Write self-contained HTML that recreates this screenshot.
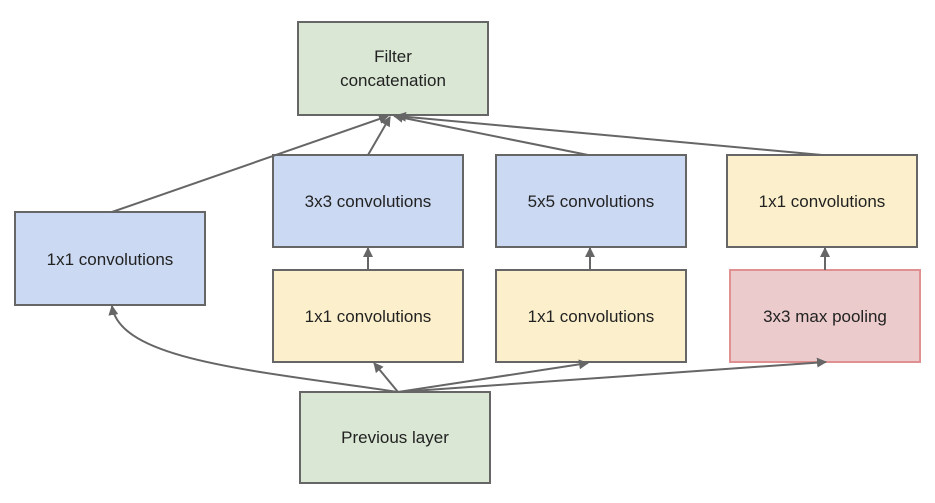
<!DOCTYPE html>
<html><head><meta charset="utf-8"><style>
body{margin:0;background:#fff;}
</style></head><body>
<svg width="935" height="498" xmlns="http://www.w3.org/2000/svg" font-family="Liberation Sans, Arial, sans-serif" font-size="17" fill="#222">
<defs><marker id="a" markerWidth="10" markerHeight="10" refX="9" refY="5" orient="auto" markerUnits="userSpaceOnUse"><path d="M0,0 L10,5 L0,10 z" fill="#666"/></marker></defs>
<g stroke="#666" stroke-width="2">
<rect x="298" y="22" width="190" height="93" fill="#d9e7d4"/>
<rect x="15" y="212" width="190" height="93" fill="#cbd9f2"/>
<rect x="273" y="155" width="190" height="92" fill="#cbd9f2"/>
<rect x="496" y="155" width="190" height="92" fill="#cbd9f2"/>
<rect x="727" y="155" width="190" height="92" fill="#fcf0cc"/>
<rect x="273" y="270" width="190" height="92" fill="#fcf0cc"/>
<rect x="496" y="270" width="190" height="92" fill="#fcf0cc"/>
<rect x="730" y="270" width="190" height="92" fill="#ebcbcb" stroke="#e09090"/>
<rect x="300" y="392" width="190" height="91" fill="#d9e7d4"/>
</g>
<g stroke="#666" stroke-width="2" fill="none" marker-end="url(#a)">
<line x1="112" y1="212" x2="388" y2="116"/>
<line x1="368" y1="155" x2="390" y2="117"/>
<line x1="588" y1="155" x2="394" y2="116"/>
<line x1="822" y1="155" x2="397" y2="116"/>
<line x1="368" y1="270" x2="368" y2="248"/>
<line x1="590" y1="270" x2="590" y2="248"/>
<line x1="825" y1="270" x2="825" y2="248"/>
<path d="M398,392 C250,370 120,360 112,306"/>
<line x1="398" y1="392" x2="374" y2="363"/>
<line x1="398" y1="392" x2="588" y2="363"/>
<line x1="398" y1="392" x2="826" y2="362"/>
</g>
<g text-anchor="middle">
<text x="393" y="62">Filter</text>
<text x="393" y="86">concatenation</text>
<text x="110" y="265">1x1 convolutions</text>
<text x="368" y="207">3x3 convolutions</text>
<text x="591" y="207">5x5 convolutions</text>
<text x="822" y="207">1x1 convolutions</text>
<text x="368" y="322">1x1 convolutions</text>
<text x="591" y="322">1x1 convolutions</text>
<text x="825" y="322">3x3 max pooling</text>
<text x="395" y="443">Previous layer</text>
</g>
</svg>
</body></html>
